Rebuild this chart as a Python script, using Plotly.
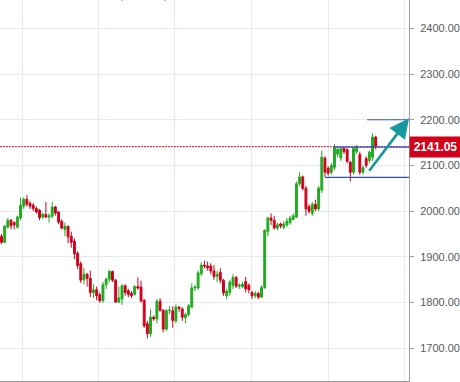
import plotly.graph_objects as go

opens = [1945,1932,1965,1980,1975,1965,1985,2011,2026,2017,2013,2006,2002,1987,1993,1987,1989,2009,1998,1978,
         1960,1967,1945,1934,1908,1885,1850,1862,1853,1822,1828,1817,1804,1839,1851,1868,1849,1801,1808,1837,
         1826,1820,1818,1835,1834,1805,1754,1732,1768,1764,1803,1783,1742,1782,1782,1760,1790,1786,1767,1774,
         1790,1832,1832,1863,1882,1880,1880,1869,1857,1866,1849,1815,1822,1838,1855,1836,1835,1846,1838,1822,
         1815,1820,1812,1833,1955,1985,1980,1963,1972,1965,1970,1975,1982,1987,2060,2075,2050,2010,1995,2015,
         2005,2046,2116,2094,2085,2096,2125,2116,2137,2135,2107,2085,2130,2124,2085,2115,2111,2118,2162]
highs = [1950,1970,1985,1983,1978,1990,2030,2030,2035,2022,2018,2010,2005,1997,2020,1995,2020,2012,2000,1982,
         1975,1968,1955,1940,1912,1890,1875,1865,1870,1840,1835,1822,1845,1855,1872,1870,1852,1835,1840,1840,
         1830,1825,1838,1855,1848,1808,1760,1785,1772,1808,1810,1786,1786,1792,1792,1796,1792,1790,1777,1797,
         1842,1838,1870,1888,1892,1890,1886,1882,1870,1875,1852,1830,1850,1862,1858,1842,1845,1856,1842,1826,
         1825,1824,1838,1960,1988,1995,1990,1975,1975,1978,1985,1990,1995,2065,2085,2078,2055,2015,2020,2025,
         2055,2133,2120,2098,2105,2147,2140,2140,2140,2137,2110,2140,2145,2130,2100,2120,2132,2170,2165]
lows = [1928,1930,1962,1960,1960,1962,1980,2005,2010,2005,2000,1995,1980,1983,1985,1975,1985,1990,1972,1960,
        1945,1930,1920,1895,1873,1843,1840,1835,1812,1810,1805,1800,1800,1830,1845,1845,1801,1800,1795,1815,
        1812,1810,1815,1828,1800,1745,1722,1725,1760,1755,1780,1735,1738,1775,1745,1755,1780,1760,1755,1770,
        1788,1825,1828,1858,1875,1870,1862,1850,1845,1842,1815,1808,1815,1830,1832,1830,1832,1822,1820,1808,
        1810,1808,1810,1830,1945,1970,1960,1958,1962,1960,1965,1970,1980,1985,2055,2045,1990,1995,1990,2000,
        2000,2040,2075,2078,2080,2090,2118,2110,2125,2105,2065,2080,2125,2080,2080,2095,2105,2110,2135]
closes = [1932,1967,1980,1968,1970,1987,2013,2026,2015,2011,2006,1998,1986,1993,1987,1990,2009,1996,1976,1963,
          1967,1944,1932,1907,1881,1849,1862,1853,1822,1828,1815,1804,1839,1851,1868,1849,1801,1810,1837,1822,
          1818,1815,1835,1832,1804,1749,1732,1768,1764,1803,1783,1742,1782,1783,1761,1790,1787,1768,1774,1793,
          1832,1834,1865,1882,1880,1876,1869,1857,1862,1849,1821,1825,1845,1855,1836,1838,1840,1830,1828,1815,
          1820,1812,1833,1958,1985,1980,1963,1970,1968,1972,1978,1985,1990,2060,2075,2050,2005,2000,2015,2005,
          2050,2118,2085,2083,2100,2140,2135,2137,2130,2109,2085,2137,2140,2085,2095,2100,2129,2162,2141.05]
idx = list(range(len(closes)))

last_price = 2141.05
y_ticks = [1700, 1800, 1900, 2000, 2100, 2200, 2300, 2400]
x_grid = [6.5, 30.6, 54.7, 78.8, 103.0, 127.1]
# drawing tools (horizontal levels and trend arrow)
level_top, level_mid, level_low = 2200, 2140, 2074
arrow_from = (115.6, 2085)
arrow_to = (128.5, 2203)

GREEN = "#1fab1f"
RED = "#d0021b"

fig = go.Figure()
fig.add_trace(go.Candlestick(
    x=idx, open=opens, high=highs, low=lows, close=closes,
    increasing=dict(line=dict(color=GREEN, width=1), fillcolor=GREEN),
    decreasing=dict(line=dict(color=RED, width=1), fillcolor=RED),
    whiskerwidth=0, hoverinfo="skip", showlegend=False,
))

x_max = 128.5
fig.add_shape(type="line", xref="x", yref="y", x0=-0.5, x1=x_max, y0=last_price, y1=last_price,
              line=dict(color="#e0001a", width=1, dash="2px,1px"))
fig.add_shape(type="line", xref="x", yref="y", x0=115.3, x1=x_max, y0=level_top, y1=level_top,
              line=dict(color="#2f55c8", width=1.2))
fig.add_shape(type="line", xref="x", yref="y", x0=104.6, x1=x_max, y0=level_mid, y1=level_mid,
              line=dict(color="#2f55c8", width=1.2))
fig.add_shape(type="line", xref="x", yref="y", x0=102.0, x1=x_max, y0=level_low, y1=level_low,
              line=dict(color="#2f4fb0", width=1.2))

fig.add_annotation(x=arrow_to[0], y=arrow_to[1], ax=arrow_from[0], ay=arrow_from[1],
                   xref="x", yref="y", axref="x", ayref="y", text="",
                   showarrow=True, arrowhead=2, arrowsize=1.5, arrowwidth=2.6, arrowcolor="#16989c")

fig.add_annotation(x=1, xref="paper", y=last_price, yref="y", xanchor="left", yanchor="middle",
                   text="<b>2141.05</b>", showarrow=False, bgcolor=RED, borderpad=3, width=45,
                   align="center", font=dict(color="white", size=12, family="Liberation Sans"))

fig.add_annotation(x=0.351, xref="paper", y=1, yref="paper", yanchor="bottom", yshift=-3,
                   text="(+1.25%)", showarrow=False, font=dict(color="#e8607a", size=12,
                   family="Liberation Sans"))

fig.update_layout(
    width=460, height=382, autosize=False,
    margin=dict(l=0, r=51, t=0, b=1),
    paper_bgcolor="white", plot_bgcolor="white",
    boxgap=0.15,
    xaxis=dict(range=[-0.47, x_max], rangeslider=dict(visible=False), showticklabels=False,
               tickvals=x_grid, showgrid=True, gridcolor="#e3eaf2", gridwidth=1, zeroline=False,
               showline=True, linecolor="#9a9a9a", linewidth=1, ticks=""),
    yaxis=dict(range=[1628.5, 2461.9], side="right", tickvals=y_ticks, tickformat=".2f",
               showgrid=True, gridcolor="#e3eaf2", gridwidth=1, zeroline=False,
               showline=True, linecolor="#a0a0a0", linewidth=1, ticks="outside", ticklen=4,
               ticklabelstandoff=4,
               tickcolor="#a0a0a0", tickfont=dict(color="#5a5a5a", size=11, family="Liberation Sans")),
    hovermode=False,
)

fig.write_html("out.html")
